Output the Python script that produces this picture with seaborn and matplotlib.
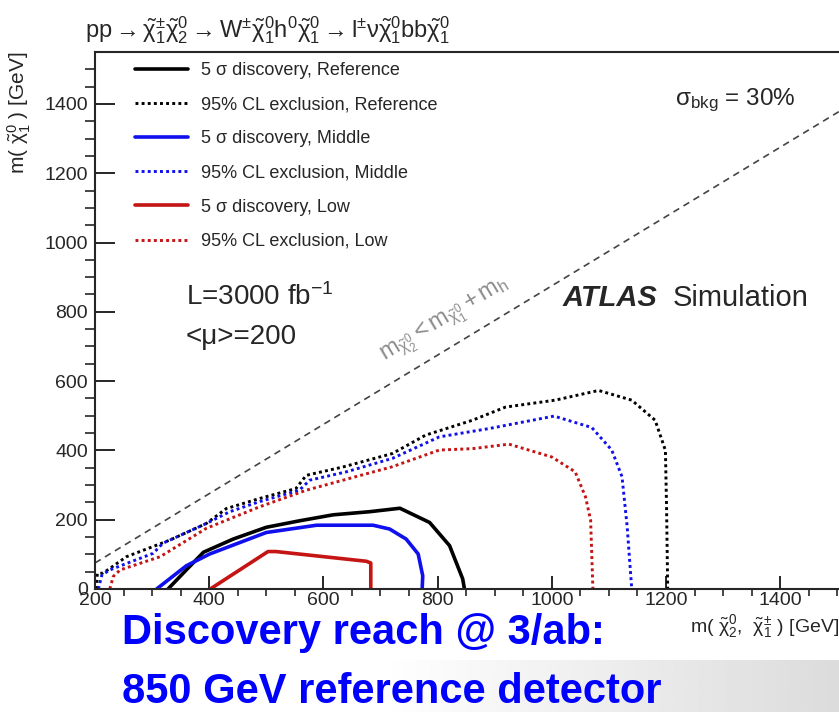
import matplotlib
matplotlib.use("Agg")
import matplotlib.pyplot as plt
import seaborn as sns
import pandas as pd
import numpy as np

ref_disc_x = [328, 360, 390, 442, 500, 559, 617, 681, 734, 786, 821, 844, 847]
ref_disc_y = [0, 55, 106, 144, 178, 197, 214, 223, 233, 192, 125, 29, 0]

mid_disc_x = [308, 360, 401, 500, 588, 687, 716, 745, 766, 774, 773]
mid_disc_y = [0, 67, 101, 163, 184, 184, 173, 144, 101, 38, 0]

low_disc_x = [402, 503, 517, 675, 683, 683]
low_disc_y = [0, 108, 108, 80, 75, 0]

ref_excl_x = [203, 204, 214, 225, 255, 331, 395, 430, 488, 552, 570, 634, 721,
              779, 861, 919, 1006, 1082, 1140, 1181, 1199, 1201, 1203]
ref_excl_y = [0, 44, 46, 58, 93, 141, 189, 232, 261, 290, 328, 352, 391,
              444, 487, 525, 545, 573, 545, 487, 400, 237, 0]

mid_excl_x = [206, 212, 226, 302, 319, 395, 436, 488, 558, 576, 640, 721, 803,
              890, 1004, 1070, 1105, 1123, 1132, 1140]
mid_excl_y = [0, 40, 55, 103, 132, 189, 223, 252, 285, 314, 338, 377, 439,
              463, 499, 466, 401, 324, 180, 0]

low_excl_x = [226, 232, 244, 314, 395, 488, 570, 721, 803, 861, 925, 1000,
              1041, 1059, 1068, 1072]
low_excl_y = [0, 36, 55, 93, 175, 237, 285, 353, 401, 405, 418, 381,
              338, 266, 199, 0]

curve_labels = ["5 \u03c3 discovery, Reference", "95% CL exclusion, Reference",
                "5 \u03c3 discovery, Middle", "95% CL exclusion, Middle",
                "5 \u03c3 discovery, Low", "95% CL exclusion, Low"]

higgs_mass = 125
diag_x = np.array([200, 1550])
diag_y = diag_x - higgs_mass

sns.set_style("ticks")
plt.rcParams["font.family"] = ["Liberation Sans", "DejaVu Sans"]
plt.rcParams["mathtext.fontset"] = "custom"
plt.rcParams["mathtext.rm"] = "Liberation Sans"
plt.rcParams["mathtext.it"] = "Liberation Sans:italic"
plt.rcParams["mathtext.bf"] = "Liberation Sans:bold"
plt.rcParams["mathtext.default"] = "regular"

fig = plt.figure(figsize=(8.39, 7.12), dpi=100)
fig.patch.set_facecolor("white")

# light slide background gradient, bottom right
bg = fig.add_axes([0.45, 0, 0.55, 52 / 712], zorder=0)
grad = np.linspace(1.0, 0.86, 256)[None, :]
bg.imshow(grad, aspect="auto", cmap="gray", vmin=0, vmax=1, extent=[0, 1, 0, 1])
bg.axis("off")

ax = fig.add_axes([0.1132, 0.1728, 0.8868, 0.7542], zorder=1)
ax.set_facecolor("white")

dot = (0, (1, 1.1))
blue = "#1010ee"
red = "#c41414"
styles = [
    (ref_disc_x, ref_disc_y, "black", "-"),
    (ref_excl_x, ref_excl_y, "black", dot),
    (mid_disc_x, mid_disc_y, blue, "-"),
    (mid_excl_x, mid_excl_y, blue, dot),
    (low_disc_x, low_disc_y, red, "-"),
    (low_excl_x, low_excl_y, red, dot),
]
for (xs, ys, col, ls), lab in zip(styles, curve_labels):
    df = pd.DataFrame({"x": xs, "y": ys})
    sns.lineplot(data=df, x="x", y="y", sort=False, estimator=None, ax=ax,
                 color=col, linestyle=ls, lw=2.6 if ls == "-" else 2.1,
                 label=lab)

sns.lineplot(x=diag_x, y=diag_y, ax=ax, color="#444444", lw=1.2,
             linestyle=(0, (4, 3)), sort=False, estimator=None)

ax.set_xlim(200, 1503)
ax.set_ylim(0, 1550)
ax.set_xticks(range(200, 1501, 200))
ax.set_yticks(range(0, 1401, 200))
ax.set_xticks(range(250, 1501, 50), minor=True)
ax.set_yticks(range(50, 1550, 50), minor=True)
ax.tick_params(axis="both", direction="in", labelsize=14, width=1.4)
ax.tick_params(axis="x", which="major", length=9.5, pad=2)
ax.tick_params(axis="x", which="minor", length=5, width=1.2)
ax.tick_params(axis="y", which="major", length=14.5, pad=5)
ax.tick_params(axis="y", which="minor", length=7.2, width=1.2)
for s in ["left", "bottom", "top"]:
    ax.spines[s].set_linewidth(1.5)
ax.spines["right"].set_visible(False)

ax.set_xlabel(r"m( $\tilde{\chi}_2^0$,  $\tilde{\chi}_1^{\pm}$ ) [GeV]",
              fontsize=14, loc="right")
ax.xaxis.set_label_coords(1.0, -0.045)
ax.xaxis.label.set_va("top")
ax.set_ylabel(r"m( $\tilde{\chi}_1^0$ ) [GeV]", fontsize=15, loc="top")
ax.yaxis.set_label_coords(-0.083, 1.0)

ax.legend(loc="upper left", bbox_to_anchor=(0.054, 0.981), frameon=False,
          fontsize=13, handlelength=2.9, handletextpad=0.72,
          labelspacing=0.95, borderpad=0, borderaxespad=0)

ax.text(0.122, 0.529, r"L=3000 fb$^{-1}$", transform=ax.transAxes,
        fontsize=20, va="baseline")
ax.text(0.122, 0.456, "<\u03bc>=200", transform=ax.transAxes,
        fontsize=20, va="baseline")
ax.text(0.78, 0.901, r"$\sigma_{\mathrm{bkg}}$ = 30%", transform=ax.transAxes,
        fontsize=17.5, va="baseline")
ax.text(0.629, 0.527, "ATLAS", transform=ax.transAxes, fontsize=21,
        fontweight="bold", fontstyle="italic", va="baseline")
ax.text(0.777, 0.527, "Simulation", transform=ax.transAxes, fontsize=21,
        va="baseline")
ax.text(813, 775, r"$m_{\tilde{\chi}_2^0} < m_{\tilde{\chi}_1^0} + m_h$",
        color="#8c8c8c", fontsize=17, rotation=31, ha="center", va="center",
        rotation_mode="anchor")

fig.text(85 / 839, 1 - 37 / 712,
         r"$\mathrm{pp}\rightarrow\tilde{\chi}_1^{\pm}\tilde{\chi}_2^0\rightarrow"
         r"\mathrm{W}^{\pm}\tilde{\chi}_1^0\mathrm{h}^0\tilde{\chi}_1^0\rightarrow"
         r"\mathrm{l}^{\pm}\nu\tilde{\chi}_1^0\mathrm{bb}\tilde{\chi}_1^0$",
         fontsize=17, va="baseline")

fig.text(122 / 839, 1 - 644 / 712, "Discovery reach @ 3/ab:", fontsize=30,
         fontweight="bold", color="#0000ff", va="baseline", zorder=3)
fig.text(122 / 839, 1 - 703 / 712, "850 GeV reference detector", fontsize=30,
         fontweight="bold", color="#0000ff", va="baseline", zorder=3)

fig.savefig("out.png", dpi=100)
